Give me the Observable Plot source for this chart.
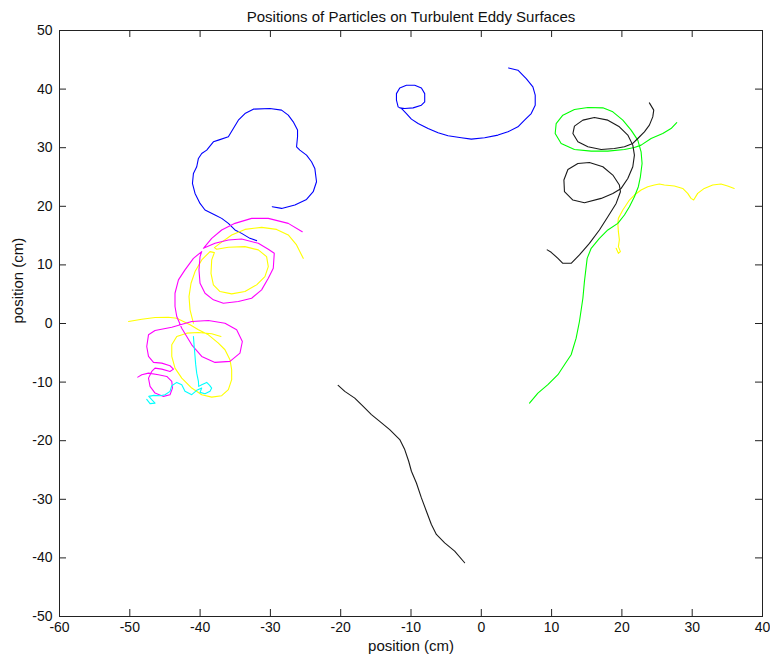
<!DOCTYPE html>
<html>
<head>
<meta charset="utf-8">
<script src="https://cdn.jsdelivr.net/npm/d3@7"></script>
<script src="https://cdn.jsdelivr.net/npm/@observablehq/plot@0.6"></script>
<style>
  html, body { margin: 0; padding: 0; background: #fff; }
  #chart svg { display: block; }
</style>
</head>
<body>
<div id="chart"></div>
<script>
// ---------- text ----------
const chartTitle = "Positions of Particles on Turbulent Eddy Surfaces";
const xLabel = "position (cm)";
const yLabel = "position (cm)";

// ---------- tick labels ----------
const xTicks = [-60, -50, -40, -30, -20, -10, 0, 10, 20, 30, 40];
const yTicks = [-50, -40, -30, -20, -10, 0, 10, 20, 30, 40, 50];

// ---------- particle trajectories [x, y] in cm ----------
const blueCloud = [
  [-29.73,19.93],[-28.41,19.64],[-26.52,20.22],[-24.86,21.18],[-23.91,22.49],[-23.44,24.19],
  [-23.68,26.46],[-24.15,27.6],[-24.86,28.74],[-25.81,29.59],[-26.28,30.15],[-26.14,31.86],
  [-26.14,33.0],[-26.75,34.41],[-27.46,35.55],[-28.41,36.41],[-30.07,36.68],[-32.43,36.58],
  [-33.62,35.83],[-34.56,34.7],[-35.27,33.27],[-35.98,31.86],[-37.4,31.29],[-38.11,31.0],
  [-39.06,29.59],[-39.77,29.01],[-40.24,28.16],[-40.48,26.75],[-40.95,25.6],[-41.09,23.9],
  [-40.72,22.2],[-40.01,20.49],[-39.3,19.37],[-37.88,18.52],[-36.93,17.94],[-35.98,17.09],
  [-35.04,15.96],[-34.09,15.38],[-32.91,14.53],[-31.96,14.14]
];
const blueSpiral = [
  [3.88,43.61],[5.21,43.22],[6.39,41.79],[7.34,40.37],[7.67,38.96],[7.67,37.26],[7.1,35.83],
  [6.15,34.7],[5.21,33.56],[3.79,32.71],[2.37,32.15],[0.47,31.69],[-1.42,31.47],[-2.84,31.69],
  [-4.73,32.03],[-6.15,32.54],[-7.57,33.27],[-8.99,34.12],[-9.94,34.87],[-10.65,35.83],
  [-11.26,36.58],[-11.83,36.97],[-12.07,38.11],[-12.07,39.23],[-11.6,40.2],[-10.65,40.66],
  [-9.47,40.66],[-8.52,40.2],[-8.05,39.23],[-8.05,37.82],[-8.52,37.26],[-9.7,36.8],
  [-10.89,36.68],[-11.6,36.8]
];
const greenPath = [
  [27.8,34.29],[26.99,33.27],[25.81,32.42],[24.15,31.57],[22.73,30.44],[21.78,30.03],
  [20.36,29.69],[18.0,29.42],[15.63,29.42],[13.25,29.69],[11.36,30.72],[10.51,32.42],
  [10.65,34.12],[11.6,35.55],[13.25,36.51],[15.16,36.85],[17.29,36.8],[18.71,36.12],
  [20.13,34.7],[21.31,33.0],[22.26,31.29],[22.73,29.3],[22.87,27.31],[22.63,25.04],
  [22.34,23.34],[21.78,21.64],[21.07,19.93],[20.36,18.52],[19.42,17.09],[18.0,15.96],
  [16.8,14.53],[15.63,12.83],[15.06,11.12],[14.67,7.16],[14.45,4.31],[13.96,0.34],
  [13.49,-2.5],[12.78,-5.33],[11.83,-7.04],[10.9,-8.74],[9.47,-10.44],[8.05,-11.87],[6.86,-13.58]
];
const blackLoops = [
  [23.91,37.65],[24.53,36.41],[24.39,35.26],[23.91,33.85],[23.2,32.71],[22.26,31.57],
  [21.55,30.72],[20.36,30.15],[18.93,29.86],[17.05,29.69],[15.16,30.15],[13.74,31.01],
  [13.03,32.42],[13.25,33.68],[14.45,34.7],[16.09,35.14],[18.0,34.7],[19.64,33.56],
  [20.84,32.15],[21.55,30.44],[21.78,28.74],[21.55,26.75],[20.84,24.75],[19.89,23.05],
  [18.71,22.2],[17.05,21.35],[14.67,20.61],[13.03,21.07],[11.83,22.49],[11.75,24.48],
  [12.32,26.29],[13.74,27.31],[15.38,27.48],[17.29,26.75],[18.71,25.33],[19.64,23.63],
  [19.79,22.49],[19.18,20.49],[18.0,18.23],[16.8,15.96],[15.38,13.68],[13.96,11.7],
  [12.78,10.27],[11.6,10.27],[10.9,11.12],[9.94,12.15],[9.38,12.56]
];
const blackDrift = [
  [-20.36,-10.56],[-19.42,-11.58],[-18.0,-12.73],[-16.8,-14.14],[-15.63,-15.55],[-14.45,-16.7],
  [-13.03,-18.11],[-11.6,-19.81],[-10.89,-21.52],[-10.33,-23.51],[-9.94,-25.21],[-9.23,-27.21],
  [-8.52,-29.76],[-7.81,-32.03],[-7.1,-34.29],[-6.39,-36.0],[-5.21,-37.43],[-3.79,-38.84],[-2.37,-40.83]
];
const yellowRight = [
  [35.98,23.05],[35.04,23.46],[34.09,23.8],[32.91,23.63],[31.72,23.05],[30.78,22.2],[30.21,21.07],
  [29.83,21.35],[29.36,22.2],[28.65,23.05],[27.46,23.46],[26.04,23.63],[25.33,23.8],[24.62,23.63],
  [23.68,23.34],[22.73,22.78],[21.78,21.92],[21.07,21.07],[20.6,20.22],[20.13,19.37],[19.5,17.94],
  [19.42,17.09],[19.5,15.67],[19.64,14.26],[19.5,13.12],[19.79,12.27],[19.5,11.98],[19.18,12.83]
];
const magentaPath = [
  [-25.47,15.67],[-27.46,17.09],[-30.3,17.94],[-32.67,17.94],[-35.04,17.09],[-36.93,15.96],
  [-38.35,14.53],[-39.53,12.83],[-37.88,13.68],[-35.98,14.26],[-34.09,14.43],[-31.72,13.68],
  [-30.3,12.66],[-29.45,11.98],[-29.59,9.42],[-30.3,7.72],[-31.25,5.74],[-32.67,4.31],
  [-34.56,3.75],[-36.69,3.46],[-38.11,4.04],[-39.3,5.16],[-40.01,6.87],[-40.16,9.15],
  [-40.01,11.41],[-39.77,12.27],[-40.95,11.12],[-42.15,9.15],[-43.08,7.44],[-43.57,5.16],
  [-43.57,2.9],[-43.32,1.19],[-42.61,-0.8],[-41.9,-2.21],[-41.19,-3.63],[-39.77,-5.62],
  [-37.88,-6.64],[-35.75,-6.47],[-34.33,-5.06],[-33.99,-3.07],[-34.8,-1.07],[-36.46,0.05],
  [-38.82,0.51],[-41.19,0.34],[-44.03,-0.63],[-46.41,-1.19],[-47.34,-1.93],[-47.59,-3.92],
  [-47.34,-5.62],[-46.63,-6.64],[-45.45,-6.76],[-44.28,-7.21],[-43.79,-7.79],[-44.28,-8.18],
  [-45.45,-7.79],[-46.41,-7.61],[-46.88,-8.18],[-47.34,-9.32],[-47.12,-10.73],[-46.41,-11.87],
  [-45.21,-12.44],[-44.28,-12.15],[-43.93,-11.02],[-44.03,-9.88],[-44.74,-9.03],[-45.92,-8.74],
  [-47.34,-8.47],[-48.3,-8.74],[-48.86,-9.15]
];
const yellowUpper = [
  [-25.33,11.12],[-26.28,13.41],[-27.46,15.11],[-29.12,16.06],[-31.25,16.41],[-33.62,16.06],
  [-35.51,15.11],[-37.17,13.68],[-37.97,12.95],[-37.64,12.66],[-35.98,13.0],[-33.62,13.12],
  [-31.72,12.56],[-30.54,11.41],[-30.3,9.71],[-30.78,8.01],[-31.96,6.59],[-33.62,5.45],
  [-35.51,5.06],[-37.17,5.45],[-38.11,6.59],[-38.45,8.57],[-38.35,10.85],[-37.97,12.1],
  [-38.59,12.27],[-39.77,10.85],[-40.72,8.86],[-41.29,6.87],[-41.58,4.6],[-41.43,2.33],
  [-41.19,1.19],[-40.95,0.05]
];
const yellowLower = [
  [-50.18,0.34],[-48.3,0.73],[-46.41,1.02],[-44.5,1.07],[-43.32,0.9],[-42.37,0.34],[-41.43,-0.22],
  [-40.24,-1.07],[-38.82,-1.93],[-37.4,-3.36],[-36.46,-4.48],[-35.75,-6.18],[-35.51,-7.89],
  [-35.51,-9.59],[-35.98,-11.29],[-36.93,-12.32],[-38.35,-12.56],[-39.77,-12.15],[-41.19,-11.02],
  [-42.61,-9.32],[-43.57,-7.61],[-44.03,-5.62],[-44.03,-3.63],[-43.32,-2.21],[-41.9,-1.65],
  [-40.24,-1.53],[-38.35,-1.75],[-37.03,-2.21]
];
const cyanPath = [
  [-40.95,-2.21],[-40.84,-3.92],[-40.72,-5.62],[-40.63,-6.98],[-40.48,-8.47],[-40.24,-9.88],
  [-40.2,-10.73],[-39.77,-10.44],[-39.06,-10.05],[-38.64,-10.56],[-38.35,-11.02],[-38.59,-11.58],
  [-39.3,-11.98],[-40.01,-11.75],[-39.77,-11.02],[-40.48,-11.41],[-41.19,-12.15],[-42.15,-11.58],
  [-42.61,-10.44],[-43.32,-10.05],[-44.03,-10.61],[-44.28,-11.58],[-44.99,-12.15],[-45.7,-12.32],
  [-46.59,-12.27],[-47.3,-12.44],[-46.88,-13.0],[-46.41,-13.58],[-47.12,-13.68],[-47.59,-12.95]
];

// ---------- styling (kept apart from data) ----------
const traces = [
  {pts: blueCloud, color: "#0000ff"},
  {pts: blueSpiral, color: "#0000ff"},
  {pts: yellowUpper, color: "#ffff00"},
  {pts: yellowLower, color: "#ffff00"},
  {pts: yellowRight, color: "#ffff00"},
  {pts: greenPath, color: "#00ff00"},
  {pts: blackLoops, color: "#1a1a1a"},
  {pts: blackDrift, color: "#1a1a1a"},
  {pts: magentaPath, color: "#ff00ff"},
  {pts: cyanPath, color: "#00ffff"}
];

const W = 770, H = 657;
const mL = 59, mR = 8, mT = 30, mB = 41;
const innerW = W - mL - mR, innerH = H - mT - mB;
const tickLen = 7;
const axisColor = "#222";

const lineMarks = traces.map(t =>
  Plot.line(t.pts, {x: d => d[0], y: d => d[1], stroke: t.color, strokeWidth: 1.1, strokeLinejoin: "round"})
);

const innerX = xTicks.slice(1, -1);
const innerY = yTicks.slice(1, -1);

const chart = Plot.plot({
  width: W,
  height: H,
  marginLeft: mL, marginRight: mR, marginTop: mT, marginBottom: mB,
  style: {fontFamily: "'Liberation Sans', Arial, sans-serif", fontSize: "15px", background: "#fff", color: "#111"},
  x: {domain: [-60, 40], axis: null},
  y: {domain: [-50, 50], axis: null},
  marks: [
    ...lineMarks,
    Plot.frame({stroke: axisColor, strokeWidth: 1}),
    // inward ticks on all four sides
    Plot.tickX(innerX, {x: d => d, insetTop: innerH - tickLen, stroke: axisColor}),
    Plot.tickX(innerX, {x: d => d, insetBottom: innerH - tickLen, stroke: axisColor}),
    Plot.tickY(innerY, {y: d => d, insetRight: innerW - tickLen, stroke: axisColor}),
    Plot.tickY(innerY, {y: d => d, insetLeft: innerW - tickLen, stroke: axisColor}),
    // tick labels
    Plot.text(xTicks, {x: d => d, text: d => String(d), frameAnchor: "bottom", dy: 15, fontSize: 14, fill: "#111"}),
    Plot.text(yTicks, {y: d => d, text: d => String(d), frameAnchor: "left", textAnchor: "end", dx: -7, fontSize: 14, fill: "#111"}),
    // axis titles
    Plot.text([xLabel], {text: d => d, frameAnchor: "bottom", dy: 34, fill: "#111"}),
    Plot.text([yLabel], {text: d => d, frameAnchor: "left", rotate: -90, dx: -41, fill: "#111"}),
    // chart title
    Plot.text([chartTitle], {text: d => d, frameAnchor: "top", dy: -19, fill: "#111"})
  ]
});

document.getElementById("chart").appendChild(chart);
</script>
</body>
</html>
